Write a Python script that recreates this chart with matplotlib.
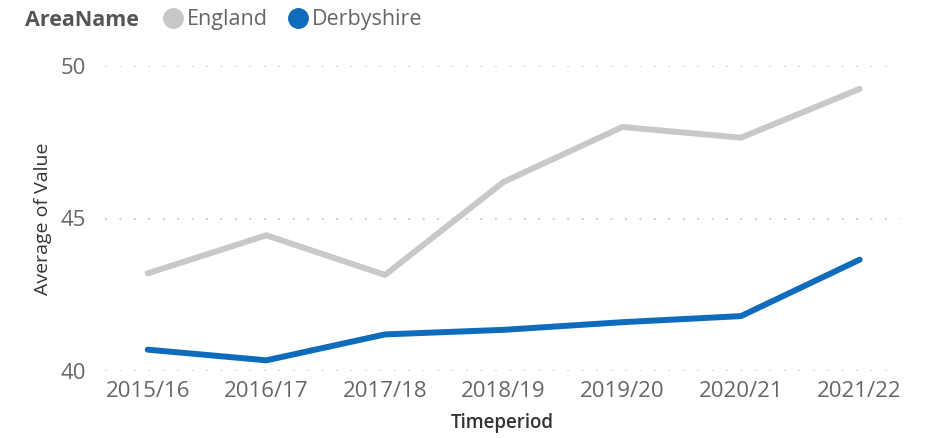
import matplotlib.pyplot as plt
from matplotlib.lines import Line2D

# 期間ごとの平均値
periods = ['2015/16', '2016/17', '2017/18', '2018/19', '2019/20', '2020/21', '2021/22']
england = [43.2, 44.45, 43.15, 46.2, 48.0, 47.65, 49.25]
derbyshire = [40.7, 40.35, 41.2, 41.35, 41.6, 41.8, 43.65]

grey = '#C8C8C8'
blue = '#0F6CBD'
text_col = '#666666'

plt.rcParams['font.family'] = ['Open Sans', 'DejaVu Sans']

fig = plt.figure(figsize=(9.25, 4.38), dpi=100)
ax = fig.add_axes([105 / 925, 1 - 371 / 438, 795 / 925, 305 / 438])

x = list(range(len(periods)))
ax.plot(x, england, color=grey, lw=4.3, solid_capstyle='round', solid_joinstyle='round')
ax.plot(x, derbyshire, color=blue, lw=4.3, solid_capstyle='round', solid_joinstyle='round')

ax.set_xlim(-0.36, 6.34)
ax.set_ylim(40, 50)
ax.set_yticks([40, 45, 50])
ax.set_xticks(x)
ax.set_xticklabels(periods)
ax.tick_params(length=0, labelsize=16, labelcolor=text_col)
ax.tick_params(axis='x', pad=7)
ax.tick_params(axis='y', pad=14)
for s in ax.spines.values():
    s.set_visible(False)
ax.grid(axis='y', color='#C8C8C8', linestyle=(0, (1, 7)), lw=1.3)
ax.set_axisbelow(True)

ax.set_ylabel('Average of Value', fontsize=14, color='#333333', labelpad=6)
ax.set_xlabel('Timeperiod', fontsize=13.5, color='#333333', fontweight='semibold', labelpad=8)

# 凡例
fig.text(25 / 925, 1 - 20 / 438, 'AreaName', fontsize=15.5, fontweight='bold',
         color='#555555', va='center', ha='left')
handles = [Line2D([], [], marker='o', ls='none', color=grey, markersize=14),
           Line2D([], [], marker='o', ls='none', color=blue, markersize=14)]
fig.legend(handles, ['England', 'Derbyshire'], loc='center left',
           bbox_to_anchor=(151 / 925, 1 - 20 / 438), ncol=2, frameon=False,
           fontsize=15.5, labelcolor=text_col, handletextpad=-0.35,
           columnspacing=0.4, borderaxespad=0, borderpad=0)

fig.savefig('out.png', dpi=100)
